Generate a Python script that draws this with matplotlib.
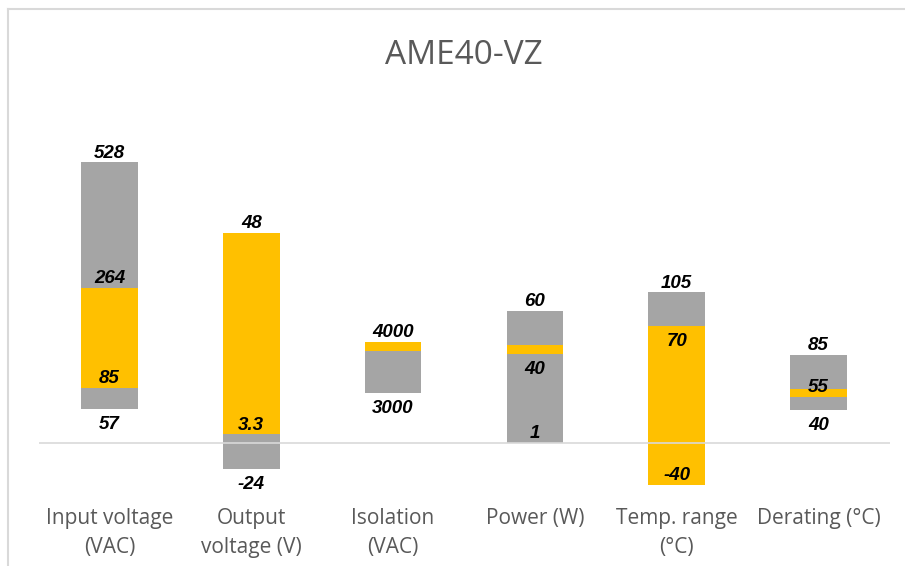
import matplotlib
matplotlib.use("Agg")
import matplotlib.pyplot as plt
from matplotlib.lines import Line2D

# categories and the stacked segment edges (chart units, 0 = axis line)
categories = ['Input voltage\n(VAC)', 'Output\nvoltage (V)', 'Isolation\n(VAC)',
              'Power (W)', 'Temp. range\n(°C)', 'Derating (°C)']
edges = [[33.7, 54.7, 155.0, 280.7],
         [-26.3, 8.7, 209.7],
         [50.0, 91.7, 101.0],
         [0.0, 88.7, 97.7, 131.7],
         [-42.0, 117.0, 150.7],
         [33.0, 46.0, 54.0, 87.7]]
# which series each segment belongs to: g = range, y = typical
fills = [['g', 'y', 'g'],
         ['g', 'y'],
         ['g', 'y'],
         ['g', 'y', 'g'],
         ['y', 'g'],
         ['g', 'y', 'g']]
# value written at each edge
edge_labels = [['57', '85', '264', '528'],
               ['-24', '3.3', '48'],
               ['3000', '', '4000'],
               ['1', '40', '', '60'],
               ['-40', '70', '105'],
               ['40', '55', '', '85']]
label_side = [['below', 'above', 'above', 'above'],
              ['below', 'above', 'above'],
              ['below', '', 'above'],
              ['above', 'below', '', 'above'],
              ['above', 'below', 'above'],
              ['below', 'above', '', 'above']]

colors = {'g': '#A5A5A5', 'y': '#FFC000'}
W, H = 905, 566

fig = plt.figure(figsize=(W / 100, H / 100), dpi=100)
ax = fig.add_axes([38.5 / W, 1 - 500 / H, 851 / W, 400 / H])
ax.set_xlim(-0.5, 5.5)
ax.set_ylim(442.7 - 500, 442.7 - 100)
ax.axis('off')

for i, (e, f) in enumerate(zip(edges, fills)):
    for j, kind in enumerate(f):
        ax.bar(i, e[j + 1] - e[j], bottom=e[j], width=0.4,
               color=colors[kind], linewidth=0, zorder=2)
    for val, txt, side in zip(e, edge_labels[i], label_side[i]):
        if not txt:
            continue
        dy = 4.5 if side == 'above' else -20.5
        ax.annotate(txt, (i, val), xytext=(0, dy), textcoords='offset pixels',
                    ha='center', va='baseline', fontsize=13.5,
                    fontweight='bold', fontstyle='italic',
                    family='Liberation Sans', color='black', zorder=4)

ax.axhline(0, color='#D9D9D9', lw=1.2, zorder=3)

# category labels below the plot, one text per line
xt = ax.get_xaxis_transform()
for i, cat in enumerate(categories):
    for k, line in enumerate(cat.split('\n')):
        ypix = 524 + 29 * k
        ax.text(i, (500 - ypix) / 400, line, transform=xt, ha='center',
                va='baseline', fontsize=15, family='Open Sans',
                color='#595959')

fig.text(464 / W, 1 - 64 / H, 'AME40-VZ', ha='center', va='baseline',
         fontsize=24, family='Open Sans', color='#595959')

# chart frame (left and top edges visible)
fig.add_artist(Line2D([8 / W, 8 / W], [0, 1 - 9 / H], transform=fig.transFigure,
                      color='#D9D9D9', lw=1.5))
fig.add_artist(Line2D([8 / W, 1], [1 - 9 / H, 1 - 9 / H], transform=fig.transFigure,
                      color='#D9D9D9', lw=1.5))

fig.savefig('out.png', dpi=100)
